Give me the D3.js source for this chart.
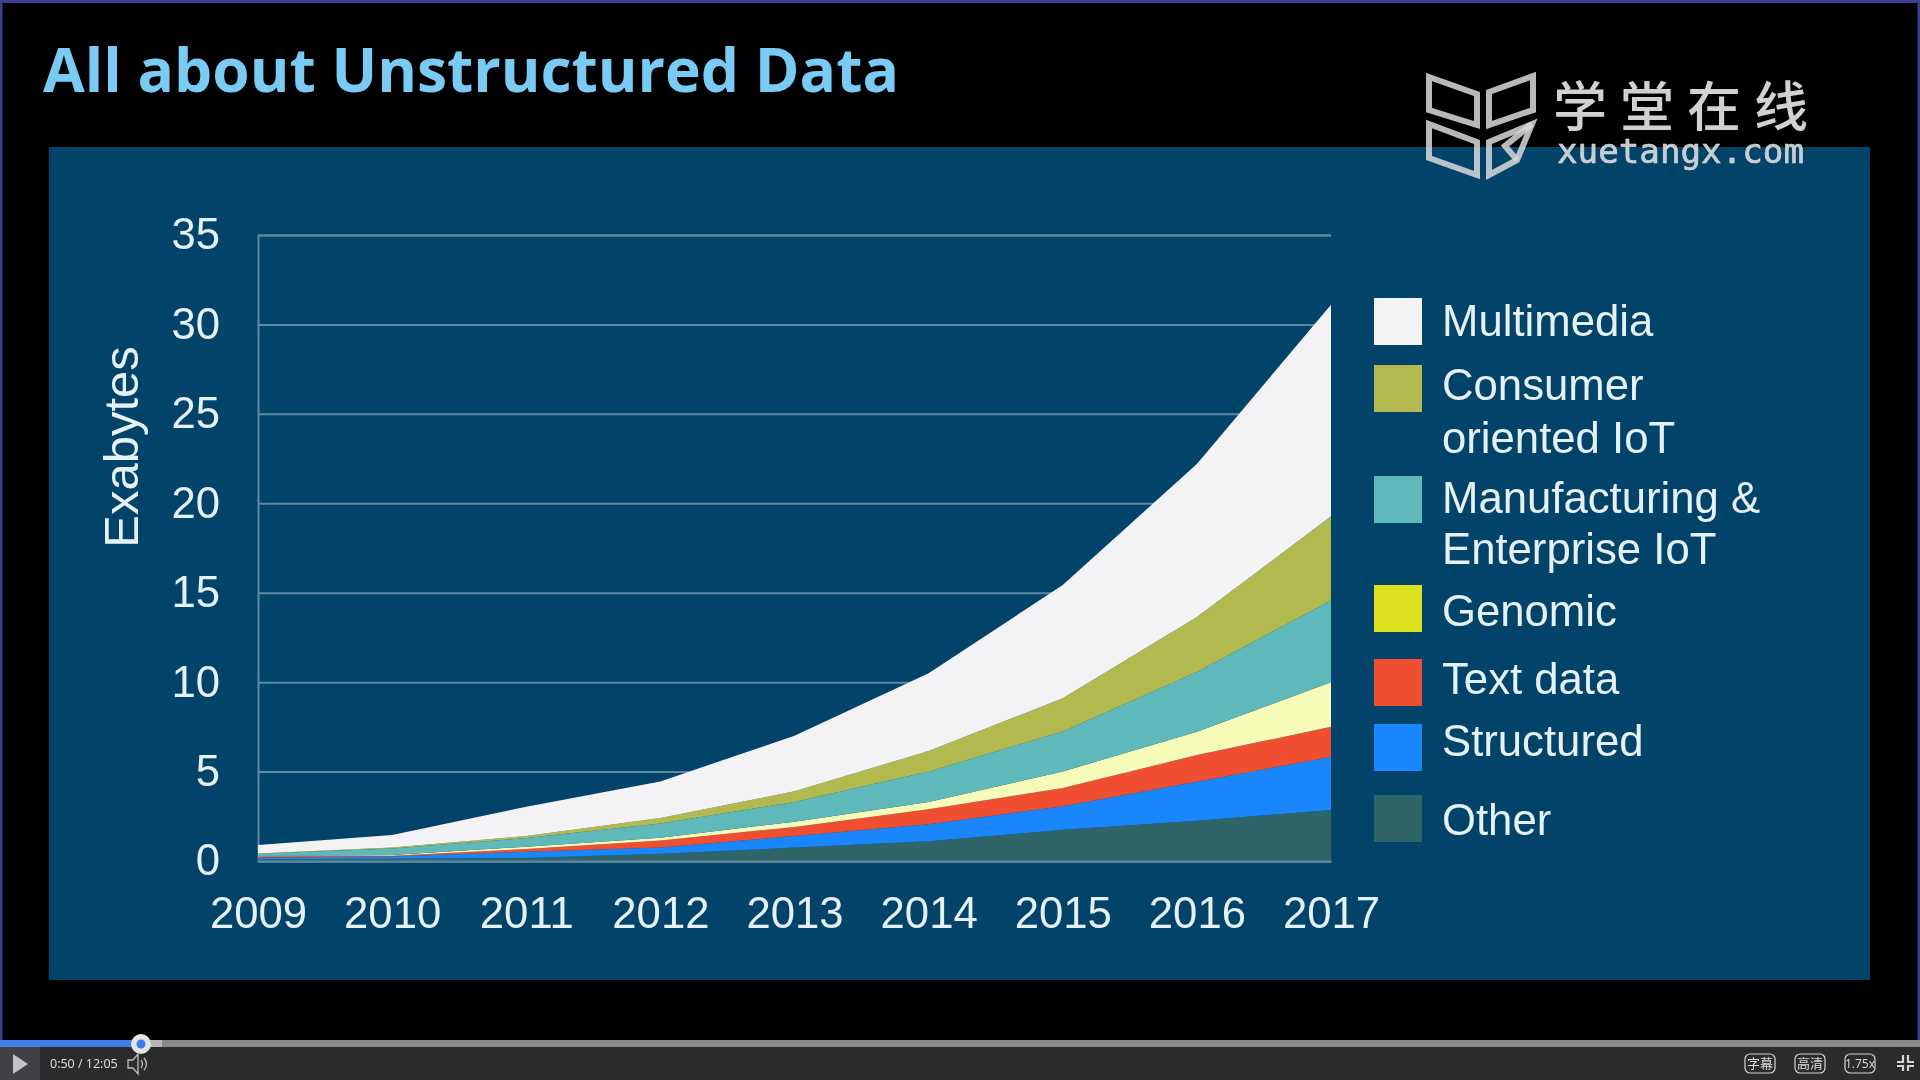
<!DOCTYPE html>
<html><head><meta charset="utf-8">
<script src="https://cdn.jsdelivr.net/npm/d3@7"></script>
<style>html,body{margin:0;padding:0;background:#000;overflow:hidden}svg{display:block;filter:blur(0.55px)}</style>
</head><body><svg id="c" width="1920" height="1080"></svg>
<script>
const years = [2009,2010,2011,2012,2013,2014,2015,2016,2017];
const yTicks = [0,5,10,15,20,25,30,35];
const other      = [0.10,0.12,0.17,0.40,0.75,1.10,1.75,2.25,2.85];
const structured = [0.10,0.13,0.35,0.35,0.65,0.95,1.31,2.18,2.97];
const textData   = [0.06,0.05,0.15,0.40,0.50,0.85,1.02,1.49,1.68];
const genomic    = [0.02,0.03,0.13,0.15,0.30,0.40,0.93,1.30,2.50];
const manufacturing = [0.12,0.37,0.48,0.80,1.10,1.70,2.23,3.35,4.57];
const consumer   = [0.02,0.05,0.12,0.30,0.60,1.15,1.86,3.07,4.70];
const multimedia = [0.48,0.70,1.63,2.05,3.10,4.35,6.33,8.56,11.83];
const seriesNames = ["Other","Structured","Text data","Genomic","Manufacturing","Consumer","Multimedia"];
const seriesValues = [other,structured,textData,genomic,manufacturing,consumer,multimedia];
const seriesColors = ["#2f6468","#1a86fb","#f04e30","#f6fbb8","#5fb9ba","#b2b94f","#f3f3f6"];
const legendLabels = [["Multimedia"],["Consumer","oriented IoT"],["Manufacturing &","Enterprise IoT"],["Genomic"],["Text data"],["Structured"],["Other"]];
const legendColors = ["#f3f3f6","#b2b94f","#5fb9ba","#dde01f","#f04e30","#1a86fb","#2f6468"];
const legendTops = [298,365,476,585,659,724,795];
const legendTextY = [[321],[385,438],[498,549],[611],[679],[741],[820]];

const svg = d3.select("#c");
const TXT = "#e6f1f6", FONT = "'Liberation Sans',Arial,sans-serif";
svg.append("rect").attr("width",1920).attr("height",1080).attr("fill","#000");
svg.append("rect").attr("width",1920).attr("height",3).attr("fill","#3d3f90");
svg.append("rect").attr("width",2.5).attr("height",1040).attr("fill","#3d3f90");
svg.append("rect").attr("x",1917.5).attr("width",2.5).attr("height",1040).attr("fill","#3d3f90");
svg.append("rect").attr("x",49).attr("y",147).attr("width",1821).attr("height",833).attr("fill","#02436a");
svg.append("text").attr("x",43).attr("y",92).attr("font-family","'Open Sans'").attr("font-weight",700)
  .attr("font-size",60.5).attr("fill","#79cbf3").text("All about Unstructured Data");

const x = d3.scalePoint().domain(years).range([258,1331]);
const y = d3.scaleLinear().domain([0,35]).range([861,235]);
const W = 1331-258;

const yAxis = d3.axisLeft(y).tickValues(yTicks).tickSize(-W).tickPadding(38);
const gy = svg.append("g").attr("transform","translate(258,0)").call(yAxis);
gy.selectAll(".tick line").attr("stroke","#5f88a3").attr("stroke-width",2);
gy.select(".domain").attr("stroke","#5f88a3").attr("stroke-width",2);
gy.selectAll("text").attr("font-family",FONT).attr("font-size",43.7).attr("fill",TXT);

const table = years.map((yr,i)=>{const r={year:yr};seriesNames.forEach((n,k)=>r[n]=seriesValues[k][i]);return r;});
const stacked = d3.stack().keys(seriesNames)(table);
const area = d3.area().x(d=>x(d.data.year)).y0(d=>y(d[0])).y1(d=>y(d[1]));
svg.append("g").selectAll("path").data(stacked).join("path")
  .attr("d",area).attr("fill",(d,i)=>seriesColors[i]);

const gx = svg.append("g").attr("transform","translate(0,861)")
  .call(d3.axisBottom(x).tickSize(0).tickPadding(36));
gx.select(".domain").attr("stroke","#5f88a3").attr("stroke-width",2);
gx.selectAll("text").attr("font-family",FONT).attr("font-size",43.7).attr("fill",TXT);

svg.append("text").attr("transform","translate(138,447) rotate(-90)").attr("text-anchor","middle")
  .attr("font-family",FONT).attr("font-size",49).attr("fill",TXT).text("Exabytes");

legendLabels.forEach((lines,i)=>{
  svg.append("rect").attr("x",1374).attr("y",legendTops[i]).attr("width",48).attr("height",47).attr("fill",legendColors[i]);
  lines.forEach((t,j)=>svg.append("text").attr("x",1442).attr("y",legendTextY[i][j]).attr("dy","0.35em")
    .attr("font-family",FONT).attr("font-size",43.7).attr("fill",TXT).text(t));
});

const wm = svg.append("g").attr("fill","none").attr("stroke","#d8d8d8").attr("stroke-opacity",.85).attr("stroke-width",6).attr("stroke-linejoin","miter");
const book = [
 [[1429,77],[1477,94],[1477,125],[1429,110]],
 [[1533,76],[1489,92],[1489,125],[1533,110]],
 [[1429,124],[1477,142],[1477,175],[1429,158]],
 [[1489,142],[1532,124],[1517,160],[1489,175]]
];
book.forEach(p=>wm.append("path").attr("d",d3.line()(p)+"Z"));
wm.append("path").attr("d",d3.line()([[1532,124],[1505,146],[1517,160]]));
svg.append("text").attr("x",1553).attr("y",127).attr("font-family","'Noto Sans CJK SC'").attr("font-weight",500).attr("font-size",54).attr("letter-spacing",13)
  .attr("fill","#dcdcdc").attr("fill-opacity",.95).text("学堂在线");
svg.append("text").attr("x",1557).attr("y",163).attr("font-family","'DejaVu Sans Mono'").attr("font-size",34.2)
  .attr("fill","#dcdcdc").attr("stroke","#dcdcdc").attr("stroke-width",.6).attr("fill-opacity",.9).text("xuetangx.com");

svg.append("rect").attr("y",1047).attr("width",1920).attr("height",33).attr("fill","#2b2b2e");
svg.append("rect").attr("y",1047).attr("width",40).attr("height",33).attr("fill","#414145");
svg.append("rect").attr("y",1040).attr("width",1920).attr("height",7).attr("fill","#8b8b8b");
svg.append("rect").attr("x",141).attr("y",1040).attr("width",21).attr("height",7).attr("fill","#b5b5b5");
svg.append("rect").attr("y",1040).attr("width",141).attr("height",7).attr("fill","#3f7fe8");
svg.append("circle").attr("cx",141).attr("cy",1044).attr("r",10).attr("fill","#e4e4e4");
svg.append("circle").attr("cx",141).attr("cy",1044).attr("r",4.5).attr("fill","#3f7fe8");
svg.append("path").attr("d","M13 1054L28 1064L13 1074Z").attr("fill","#c4c4c4");
svg.append("text").attr("x",50).attr("y",1068).attr("font-family","'Open Sans'").attr("font-size",12.5).attr("fill","#e2e2e2").text("0:50 / 12:05");
svg.append("path").attr("d","M128 1060h5l5-6v20l-5-6h-5zM141 1060q3 4 0 8M144 1058q5 6 0 12").attr("fill","none").attr("stroke","#bdbdbd").attr("stroke-width",1.3);
[[1745,"字幕"],[1795,"高清"],[1845,"1.75x"]].forEach(([bx,t])=>{
  svg.append("rect").attr("x",bx).attr("y",1054).attr("width",30).attr("height",19).attr("rx",5).attr("fill","none").attr("stroke","#d5d5d5").attr("stroke-width",1.2);
  svg.append("text").attr("x",bx+15).attr("y",1068).attr("text-anchor","middle")
    .attr("font-family",t==="1.75x"?"'Open Sans'":"'Noto Sans CJK SC'").attr("font-size",t==="1.75x"?12:13).attr("fill","#dedede").text(t);
});
svg.append("path").attr("d","M1903 1055v7h-6M1908 1055v7h6M1903 1071v-5h-6M1908 1071v-5h6").attr("fill","none").attr("stroke","#d5d5d5").attr("stroke-width",2.2);
</script></body></html>
